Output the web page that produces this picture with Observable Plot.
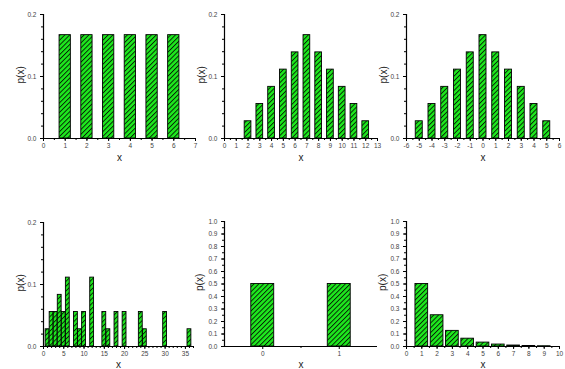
<!DOCTYPE html>
<html><head><meta charset="utf-8">
<script src="https://cdn.jsdelivr.net/npm/d3@7"></script>
<script src="https://cdn.jsdelivr.net/npm/@observablehq/plot@0.6"></script>
<style>
body{margin:0;width:565px;height:369px;overflow:hidden;background:#fff;position:relative;font-family:"Liberation Sans",Arial,sans-serif}
.p{position:absolute}
</style></head>
<body>
<svg width="0" height="0" style="position:absolute"><defs>
<pattern id="hatch" patternUnits="userSpaceOnUse" width="3.4" height="3.4" patternTransform="rotate(45)">
<rect width="3.4" height="3.4" fill="#1ee81e"/>
<line x1="0.5" y1="0" x2="0.5" y2="3.4" stroke="#000" stroke-width="0.8"/>
</pattern></defs></svg>
<div id="root"></div>
<script>
// Panel 1: single die
const dieX = [1, 2, 3, 4, 5, 6];
const dieP = [0.1667, 0.1667, 0.1667, 0.1667, 0.1667, 0.1667];
// Panel 2: sum of two dice
const sumX = [2, 3, 4, 5, 6, 7, 8, 9, 10, 11, 12];
const sumP = [0.0278, 0.0556, 0.0833, 0.1111, 0.1389, 0.1667, 0.1389, 0.1111, 0.0833, 0.0556, 0.0278];
// Panel 3: difference of two dice
const diffX = [-5, -4, -3, -2, -1, 0, 1, 2, 3, 4, 5];
const diffP = [0.0278, 0.0556, 0.0833, 0.1111, 0.1389, 0.1667, 0.1389, 0.1111, 0.0833, 0.0556, 0.0278];
// Panel 4: product of two dice
const prodX = [1, 2, 3, 4, 5, 6, 8, 9, 10, 12, 15, 16, 18, 20, 24, 25, 30, 36];
const prodP = [0.0278, 0.0556, 0.0556, 0.0833, 0.0556, 0.1111, 0.0556, 0.0278, 0.0556, 0.1111, 0.0556, 0.0278, 0.0556, 0.0556, 0.0556, 0.0278, 0.0556, 0.0278];
// Panel 5: coin
const coinX = [0, 1];
const coinP = [0.5, 0.5];
// Panel 6: geometric
const geoX = [1, 2, 3, 4, 5, 6, 7, 8, 9];
const geoP = [0.5, 0.25, 0.125, 0.0625, 0.03125, 0.0156, 0.0078, 0.0039, 0.002];

// tick labels
const ticks1 = [0, 1, 2, 3, 4, 5, 6, 7];
const ticks2 = [0, 1, 2, 3, 4, 5, 6, 7, 8, 9, 10, 11, 12, 13];
const ticks3 = [-6, -5, -4, -3, -2, -1, 0, 1, 2, 3, 4, 5, 6];
const ticks4 = [0, 5, 10, 15, 20, 25, 30, 35];
const ticks5 = [0, 1];
const ticks6 = [0, 1, 2, 3, 4, 5, 6, 7, 8, 9, 10];
const yTicksSmall = [0, 0.1, 0.2];
const yTicksBig = [0, 0.1, 0.2, 0.3, 0.4, 0.5, 0.6, 0.7, 0.8, 0.9, 1.0];

const range = (a, b, s) => d3.range(a, b + s / 2, s);

const top1 = {top: 0, height: 175, mt: 14, mb: 37, yDomain: [0, 0.2], yMajor: yTicksSmall, yMinor: range(0, 0.2, 0.02), xDy: 22, yDy: 7};
const bot1 = {top: 185, height: 184, mt: 37, mb: 23, yDomain: [0, 0.2], yMajor: yTicksSmall, yMinor: range(0, 0.2, 0.02), xDy: 21, yDy: 7};
const bot2 = {top: 185, height: 184, mt: 36, mb: 23, yDomain: [0, 1], yMajor: yTicksBig, yMinor: range(0, 1, 0.05), xDy: 21, yDy: 7};

const panels = [
  {...top1, left: 3, plotW: 152, xs: dieX, ps: dieP, xDomain: [0, 7], xMajor: ticks1, xMinor: range(0, 7, 0.5), bw: 0.52, yDx: -23},
  {...top1, left: 184, plotW: 153, xs: sumX, ps: sumP, xDomain: [0, 13], xMajor: ticks2, xMinor: range(0, 13, 0.5), bw: 0.57, yDx: -23},
  {...top1, left: 366, plotW: 153, xs: diffX, ps: diffP, xDomain: [-6, 6], xMajor: ticks3, xMinor: range(-6, 6, 0.5), bw: 0.55, yDx: -23},
  {...bot1, left: 3, plotW: 150, xs: prodX, ps: prodP, xDomain: [0, 37], xMajor: ticks4, xMinor: range(0, 37, 1), bw: 0.95, yDx: -23},
  {...bot2, left: 184, plotW: 153, xs: coinX, ps: coinP, xDomain: [-0.5, 1.5], xMajor: ticks5, xMinor: [0.5], bw: 0.3, yDx: -25},
  {...bot2, left: 366, plotW: 153, xs: geoX, ps: geoP, xDomain: [0, 10], xMajor: ticks6, xMinor: range(0, 10, 0.5), bw: 0.83, yDx: -24}
];

const root = document.getElementById("root");
for (const cfg of panels) {
  const data = cfg.xs.map((x, i) => ({x, p: cfg.ps[i]}));
  const w = cfg.bw;
  const width = 40 + cfg.plotW + 14;
  const chart = Plot.plot({
    width, height: cfg.height,
    marginLeft: 40, marginRight: width - 40 - cfg.plotW,
    marginTop: cfg.mt, marginBottom: cfg.mb,
    style: {fontFamily: "Liberation Sans, Arial, sans-serif", fontSize: "6.5px", color: "#333", background: "transparent", overflow: "visible"},
    x: {domain: cfg.xDomain, label: null},
    y: {domain: cfg.yDomain, label: null},
    marks: [
      Plot.rect(data, {x1: d => d.x - w / 2, x2: d => d.x + w / 2, y1: 0, y2: "p", fill: "url(#hatch)", stroke: "#000", strokeWidth: 0.9}),
      Plot.axisX(cfg.xMinor, {tickSize: 2, tickFormat: () => "", stroke: "#000", label: null}),
      Plot.axisX(cfg.xMajor, {tickSize: 3, tickPadding: 2, tickFormat: d => String(d), stroke: "#000", fill: "#444", label: null}),
      Plot.axisY(cfg.yMinor, {tickSize: 2, tickFormat: () => "", stroke: "#000", label: null}),
      Plot.axisY(cfg.yMajor, {tickSize: 3, tickPadding: 4, tickFormat: d => d.toFixed(1), stroke: "#000", fill: "#444", label: null}),
      Plot.ruleY([0], {stroke: "#000", strokeWidth: 1.2}),
      Plot.ruleX([cfg.xDomain[0]], {stroke: "#000", strokeWidth: 1.2}),
      Plot.text(["x"], {frameAnchor: "bottom", dy: cfg.xDy, fontSize: 10, fill: "#222"}),
      Plot.text(["p(x)"], {frameAnchor: "left", rotate: -90, dx: cfg.yDx, dy: cfg.yDy, fontSize: 10, fill: "#222"})
    ]
  });
  chart.classList.add("p");
  chart.style.left = cfg.left + "px";
  chart.style.top = cfg.top + "px";
  root.appendChild(chart);
}
</script>
</body></html>
